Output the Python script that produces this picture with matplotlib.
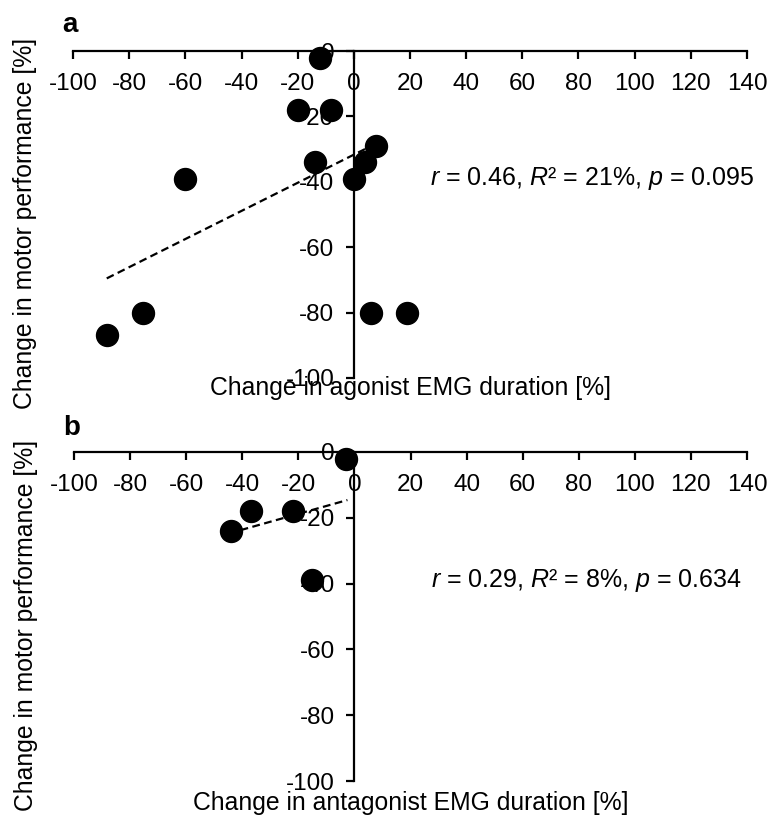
import numpy as np
import matplotlib
matplotlib.use("Agg")
import matplotlib.pyplot as plt

# ========= data =========
# panel a: agonist EMG duration vs motor performance
agonist_x = [-12, -20, -8, -14, -60, 0, 4, 8, -75, -88, 6, 19]
agonist_y = [-2, -18, -18, -34, -39, -39, -34, -29, -80, -87, -80, -80]
fit_a_slope = 0.43
fit_a_intercept = -31.7
fit_a_range = [-88, 8.5]
stats_a = r"$\it{r}$ = 0.46, $\it{R}$² = 21%, $\it{p}$ = 0.095"

# panel b: antagonist EMG duration vs motor performance
antagonist_x = [-3, -37, -22, -44, -15]
antagonist_y = [-2, -18, -18, -24, -39]
fit_b_slope = 0.24
fit_b_intercept = -14.0
fit_b_range = [-40.6, -2.5]
stats_b = r"$\it{r}$ = 0.29, $\it{R}$² = 8%, $\it{p}$ = 0.634"

x_ticks = list(range(-100, 141, 20))
y_ticks = list(range(-100, 1, 20))

# ========= style =========
plt.rcParams['font.family'] = ['Liberation Sans', 'DejaVu Sans']
plt.rcParams['mathtext.fontset'] = 'custom'
plt.rcParams['mathtext.rm'] = 'Liberation Sans'
plt.rcParams['mathtext.it'] = 'Liberation Sans:italic'
plt.rcParams['axes.unicode_minus'] = False

fig = plt.figure(figsize=(7.72, 8.15), dpi=100)

panels = [
    ([0.0946, 0.5362, 0.873, 0.4012], agonist_x, agonist_y,
     fit_a_slope, fit_a_intercept, fit_a_range, stats_a,
     "Change in agonist EMG duration [%]", "a", -0.052, 1.058),
    ([0.0959, 0.0417, 0.8717, 0.4037], antagonist_x, antagonist_y,
     fit_b_slope, fit_b_intercept, fit_b_range, stats_b,
     "Change in antagonist EMG duration [%]", "b", -0.088, 1.052),
]

for rect, xs, ys, slope, icpt, xr, stats, xlabel, letter, xl_y, let_y in panels:
    ax = fig.add_axes(rect)
    ax.set_xlim(-100, 140)
    ax.set_ylim(-100, 0)

    # axes crossing at origin
    ax.spines['left'].set_position(('data', 0))
    ax.spines['bottom'].set_position(('data', 0))
    ax.spines['top'].set_visible(False)
    ax.spines['right'].set_visible(False)
    for s in ['left', 'bottom']:
        ax.spines[s].set_linewidth(1.6)
        ax.spines[s].set_zorder(1)

    ax.set_xticks(x_ticks)
    ax.set_yticks(y_ticks)
    ax.tick_params(direction='out', length=6, width=1.6, labelsize=17.5)
    ax.tick_params(axis='x', pad=10)
    ax.tick_params(axis='y', pad=8)

    ax.scatter(xs, ys, s=250, color='black', zorder=3, clip_on=False)

    fx = np.array(xr)
    ax.plot(fx, slope * fx + icpt, '--', color='black', lw=1.6,
            dashes=(3.5, 2), zorder=2)

    ax.text(0.530, 0.590, stats, transform=ax.transAxes, fontsize=18,
            ha='left', va='baseline')

    # axis titles placed like the original figure
    ax.text(0.5, xl_y, xlabel, transform=ax.transAxes, fontsize=17.8,
            ha='center', va='baseline')
    ax.text(-0.071, 0.474, "Change in motor performance [%]",
            transform=ax.transAxes, fontsize=17.8, rotation=90,
            ha='center', va='center')

    ax.text(-0.004, let_y, letter, transform=ax.transAxes, fontsize=20,
            fontweight='bold', ha='center', va='baseline')

fig.savefig("out.png", dpi=100)
